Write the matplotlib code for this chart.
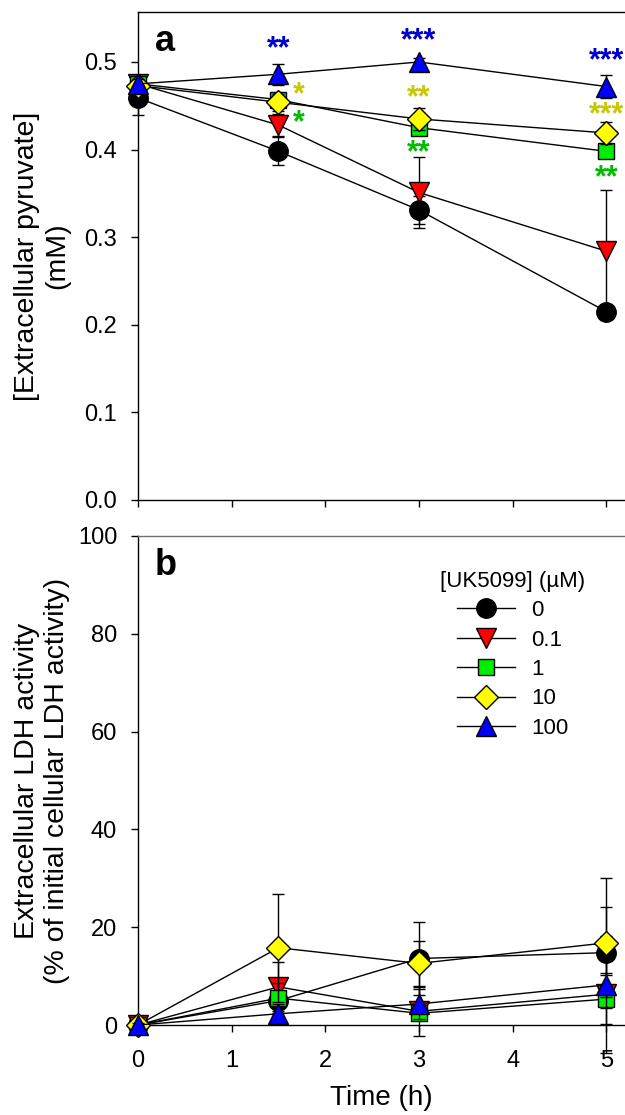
import numpy as np
import matplotlib
matplotlib.use('Agg')
import matplotlib.pyplot as plt

plt.rcParams['font.family'] = ['Liberation Sans', 'DejaVu Sans']

time = [0, 1.5, 3, 5]
doses = ['0', '0.1', '1', '10', '100']
colors = ['black', '#ff0000', '#00ee00', '#ffff00', '#0000ff']
markers = ['o', 'v', 's', 'D', '^']
msizes = [14, 14, 12, 12, 14]

# panel a: extracellular pyruvate (mM)
pyr = [
    [0.459, 0.398, 0.331, 0.215],
    [0.475, 0.428, 0.351, 0.284],
    [0.475, 0.457, 0.425, 0.398],
    [0.473, 0.454, 0.435, 0.419],
    [0.475, 0.486, 0.500, 0.472],
]
pyr_err = [
    [0.020, 0.016, 0.016, 0.008],
    [0.006, 0.013, 0.040, 0.070],
    [0.006, 0.008, 0.008, 0.006],
    [0.006, 0.010, 0.013, 0.013],
    [0.006, 0.012, 0.004, 0.013],
]

# significance stars
stars_x = [1.5, 3, 5, 1.72, 1.72, 3, 3, 5, 5]
stars_y = [0.514, 0.524, 0.501, 0.462, 0.430, 0.459, 0.396, 0.439, 0.367]
stars_txt = ['**', '***', '***', '*', '*', '**', '**', '***', '**']
stars_col = ['#0000cc', '#0000cc', '#0000cc', '#c8c800', '#00bb00',
             '#c8c800', '#00bb00', '#c8c800', '#00bb00']

# panel b: extracellular LDH (% of initial cellular)
ldh = [
    [0, 5.0, 13.6, 14.8],
    [0, 7.8, 2.8, 6.3],
    [0, 5.5, 2.4, 5.3],
    [0, 15.8, 12.6, 16.8],
    [0, 2.3, 4.3, 8.2],
]
ldh_err = [
    [0.5, 4.0, 7.5, 9.4],
    [0.5, 5.0, 5.0, 12.0],
    [0.5, 3.0, 1.0, 5.0],
    [0.5, 11.0, 4.6, 13.3],
    [0.5, 2.0, 3.0, 2.5],
]

fig = plt.figure(figsize=(6.25, 11.15), dpi=100)
ax1 = fig.add_axes([0.2208, 0.5516, 0.7792, 0.4376])
ax2 = fig.add_axes([0.2208, 0.0807, 0.7792, 0.4386])

for i in range(5):
    ax1.errorbar(time, pyr[i], yerr=pyr_err[i], color='black', lw=1,
                 marker=markers[i], ms=msizes[i], mfc=colors[i], mec='black',
                 mew=1, capsize=4, elinewidth=1, clip_on=False, zorder=3 + i)
    ax2.errorbar(time, ldh[i], yerr=ldh_err[i], color='black', lw=1,
                 marker=markers[i], ms=msizes[i], mfc=colors[i], mec='black',
                 mew=1, capsize=4, elinewidth=1, clip_on=False, zorder=3 + i,
                 label=doses[i])

for x, y, t, c in zip(stars_x, stars_y, stars_txt, stars_col):
    ax1.text(x, y, t, color=c, fontsize=22, fontweight='bold',
             ha='center', va='center')

ax1.set_xlim(0, 5.2)
ax1.set_ylim(0, 0.557)
ax1.set_yticks(np.arange(0, 0.51, 0.1))
ax1.set_yticklabels(['0.0', '0.1', '0.2', '0.3', '0.4', '0.5'])
ax1.set_xticks(range(6))
ax1.set_xticklabels([])
ax1.set_ylabel('[Extracellular pyruvate]\n(mM)', fontsize=20.5)
ax1.text(0.035, 0.94, 'a', transform=ax1.transAxes, fontsize=26,
         fontweight='bold', va='center')
ax1.spines['right'].set_visible(False)

ax2.set_xlim(0, 5.2)
ax2.set_ylim(0, 100)
ax2.set_yticks(range(0, 101, 20))
ax2.set_xticks(range(6))
ax2.set_xlabel('Time (h)', fontsize=20, labelpad=9)
ax2.set_ylabel('Extracellular LDH activity\n(% of initial cellular LDH activity)',
               fontsize=20.5)
ax2.text(0.035, 0.94, 'b', transform=ax2.transAxes, fontsize=26,
         fontweight='bold', va='center')
ax2.spines['right'].set_visible(False)
ax2.spines['top'].set_color('#707070')

for ax in (ax1, ax2):
    ax.tick_params(direction='out', length=5, width=1, labelsize=17)
    ax.tick_params(axis='y', pad=10)
    ax.tick_params(axis='x', pad=13)
    ax.yaxis.set_label_coords(-0.197, 0.5)
    ax.yaxis.label.set_va('center')
    for s in ax.spines.values():
        s.set_linewidth(1)

handles, labels = ax2.get_legend_handles_labels()
handles = [h[0] for h in handles]
leg = ax2.legend(handles, labels, title='[UK5099] (\u00b5M)', loc='upper left',
                 bbox_to_anchor=(0.58, 0.97), frameon=False, fontsize=16,
                 title_fontsize=16, handlelength=2.6, labelspacing=0.38,
                 handletextpad=0.75)

fig.savefig('out.png', dpi=100)
